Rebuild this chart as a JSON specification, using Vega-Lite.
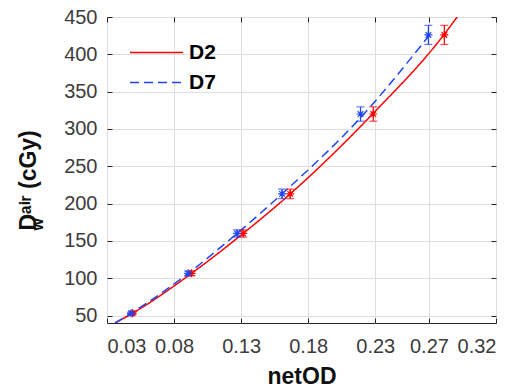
{
  "$schema": "https://vega.github.io/schema/vega-lite/v6.json",
  "width": 389,
  "height": 306,
  "autosize": "none",
  "padding": {"left": 107, "top": 17, "right": 23, "bottom": 66},
  "background": "white",
  "config": {
    "view": {"stroke": "#262626", "strokeWidth": 1},
    "axis": {
      "domain": false,
      "labelFont": "Liberation Sans",
      "labelFontSize": 20,
      "labelColor": "#3c3c3c",
      "titleFont": "Liberation Sans",
      "titleFontSize": 23,
      "titleFontWeight": "bold",
      "titleColor": "#111111",
      "tickColor": "#262626",
      "tickSize": -5,
      "gridColor": "#dedede",
      "gridWidth": 1
    },
    "legend": {
      "orient": "none", "title": null, "padding": 0,
      "labelFont": "Liberation Sans", "labelFontSize": 21, "labelFontWeight": "bold", "labelColor": "#000000",
      "symbolType": "stroke", "symbolSize": 2809, "symbolStrokeWidth": 1.5, "labelOffset": 5
    }
  },
  "datasets": {
    "curves": [
      {"series": "D2", "fit": "D2", "od": 0.036, "dose": 40},
      {"series": "D2", "fit": "D2", "od": 0.049, "dose": 53},
      {"series": "D2", "fit": "D2", "od": 0.093, "dose": 106.5},
      {"series": "D2", "fit": "D2", "od": 0.1315, "dose": 160},
      {"series": "D2", "fit": "D2", "od": 0.1666, "dose": 213},
      {"series": "D2", "fit": "D2", "od": 0.2285, "dose": 321},
      {"series": "D2", "fit": "D2", "od": 0.2815, "dose": 427},
      {"series": "D2", "fit": "D2", "od": 0.291, "dose": 450},
      {"series": "D7", "fit": "D7", "od": 0.036, "dose": 40},
      {"series": "D7", "fit": "D7", "od": 0.048, "dose": 53},
      {"series": "D7", "fit": "D7", "od": 0.0905, "dose": 106.5},
      {"series": "D7", "fit": "D7", "od": 0.127, "dose": 160},
      {"series": "D7", "fit": "D7", "od": 0.1605, "dose": 213},
      {"series": "D7", "fit": "D7", "od": 0.2215, "dose": 320},
      {"series": "D7", "fit": "D7", "od": 0.2696, "dose": 424}
    ],
    "points": [
      {"series": "D2", "od": 0.049, "dose": 53, "lo": 51.4, "hi": 54.6},
      {"series": "D2", "od": 0.093, "dose": 106.5, "lo": 103.3, "hi": 109.7},
      {"series": "D2", "od": 0.1315, "dose": 160, "lo": 155.2, "hi": 164.8},
      {"series": "D2", "od": 0.1666, "dose": 213, "lo": 206.6, "hi": 219.4},
      {"series": "D2", "od": 0.2285, "dose": 320, "lo": 310.4, "hi": 329.6},
      {"series": "D2", "od": 0.2815, "dose": 426, "lo": 413.2, "hi": 438.8},
      {"series": "D7", "od": 0.048, "dose": 53, "lo": 51.4, "hi": 54.6},
      {"series": "D7", "od": 0.0905, "dose": 106.5, "lo": 103.3, "hi": 109.7},
      {"series": "D7", "od": 0.127, "dose": 160, "lo": 155.2, "hi": 164.8},
      {"series": "D7", "od": 0.1605, "dose": 213, "lo": 206.6, "hi": 219.4},
      {"series": "D7", "od": 0.219, "dose": 320, "lo": 310.4, "hi": 329.6},
      {"series": "D7", "od": 0.2696, "dose": 426, "lo": 413.2, "hi": 438.8}
    ]
  },
  "layer": [
    {
      "data": {"name": "curves"},
      "mark": {"type": "line", "strokeWidth": 1.5, "interpolate": "monotone", "clip": true},
      "encoding": {
        "x": {
          "field": "od", "type": "quantitative",
          "scale": {"domain": [0.03, 0.32], "nice": false, "zero": false},
          "axis": {"orient": "bottom", "values": [0.03, 0.08, 0.13, 0.18, 0.23, 0.27, 0.32], "format": ".2f", "labelPadding": 18, "title": "netOD", "titlePadding": 9, "grid": true}
        },
        "y": {
          "field": "dose", "type": "quantitative",
          "scale": {"domain": [40, 450], "nice": false, "zero": false},
          "axis": {"orient": "left", "values": [50, 100, 150, 200, 250, 300, 350, 400, 450], "labelPadding": 15, "grid": true,
            "title": ["Dᵃⁱʳ (cGy)", "\u2002\u2009ʷ"], "titleAlign": "left", "titleBaseline": "alphabetic", "titleAngle": 270, "titleLineHeight": 12, "titleX": -72, "titleY": 213}
        },
        "color": {
          "field": "series", "type": "nominal",
          "scale": {"domain": ["D2", "D7"], "range": ["#ff0000", "#1f45f5"]},
          "legend": {"values": ["D2"], "legendX": 22, "legendY": 8}
        },
        "strokeDash": {
          "field": "fit", "type": "nominal",
          "scale": {"domain": ["D7", "D2"], "range": [[9, 5], [1, 0]]},
          "legend": {"values": ["D7"], "legendX": 22, "legendY": 38, "symbolStrokeColor": "#1f45f5"}
        }
      }
    },
    {
      "data": {"name": "points"},
      "mark": {"type": "rule", "strokeWidth": 1.2},
      "encoding": {
        "x": {"field": "od", "type": "quantitative", "axis": {"orient": "top", "values": [0.03, 0.08, 0.13, 0.18, 0.23, 0.27, 0.32], "labels": false, "title": null, "grid": false}},
        "y": {"field": "lo", "type": "quantitative", "axis": {"orient": "right", "values": [50, 100, 150, 200, 250, 300, 350, 400, 450], "labels": false, "title": null, "grid": false}},
        "y2": {"field": "hi"},
        "color": {"field": "series", "type": "nominal", "legend": null}
      }
    },
    {
      "data": {"name": "points"},
      "mark": {"type": "tick", "orient": "horizontal", "size": 8, "thickness": 1.2},
      "encoding": {
        "x": {"field": "od", "type": "quantitative", "axis": null},
        "y": {"field": "lo", "type": "quantitative", "axis": null},
        "color": {"field": "series", "type": "nominal", "legend": null}
      }
    },
    {
      "data": {"name": "points"},
      "mark": {"type": "tick", "orient": "horizontal", "size": 8, "thickness": 1.2},
      "encoding": {
        "x": {"field": "od", "type": "quantitative", "axis": null},
        "y": {"field": "hi", "type": "quantitative", "axis": null},
        "color": {"field": "series", "type": "nominal", "legend": null}
      }
    },
    {
      "data": {"name": "points"},
      "mark": {"type": "point", "shape": "M-1,0L1,0M0,-1L0,1M-0.7,-0.7L0.7,0.7M-0.7,0.7L0.7,-0.7", "filled": false, "size": 64, "strokeWidth": 1.2, "opacity": 1},
      "encoding": {
        "x": {"field": "od", "type": "quantitative", "axis": null},
        "y": {"field": "dose", "type": "quantitative", "axis": null},
        "color": {"field": "series", "type": "nominal", "legend": null}
      }
    }
  ],
  "resolve": {"axis": {"x": "independent", "y": "independent"}}
}
